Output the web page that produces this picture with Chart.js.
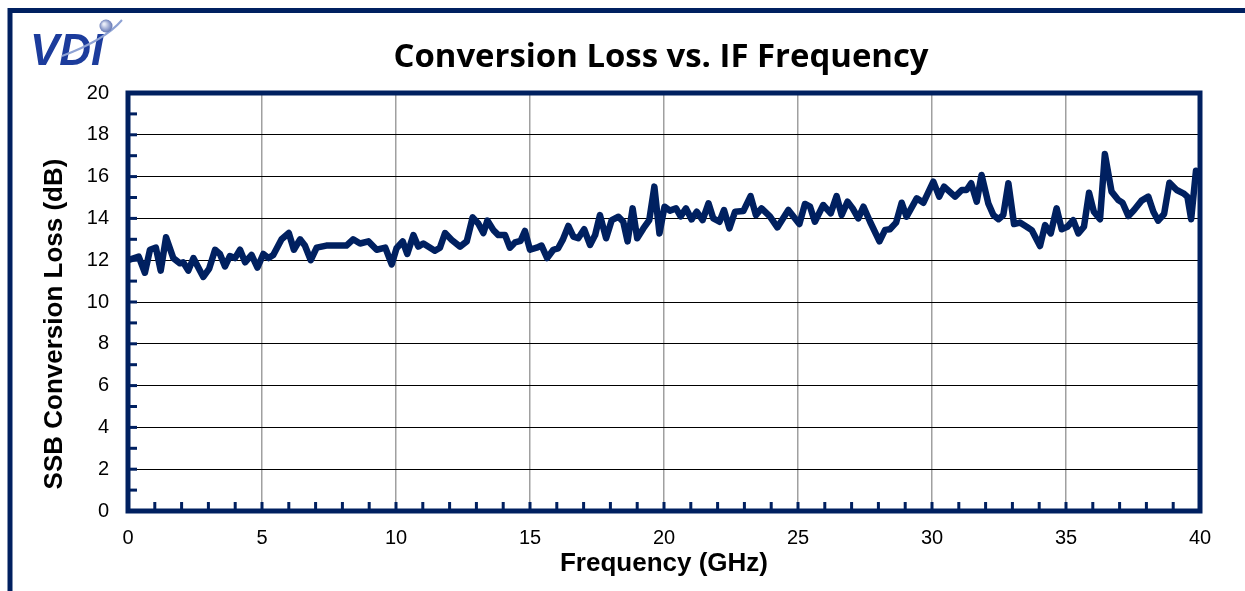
<!DOCTYPE html>
<html>
<head>
<meta charset="utf-8">
<script src="https://cdn.jsdelivr.net/npm/chart.js@4.4.1/dist/chart.umd.min.js"></script>
<style>
  html, body { margin: 0; padding: 0; background: #fff; }
  #wrap { position: relative; width: 1245px; height: 591px; overflow: hidden; }
</style>
</head>
<body>
<div id="wrap"><canvas id="chart" width="1245" height="591"></canvas></div>
<script>
const chartTitle = 'Conversion Loss vs. IF Frequency';
const xTitle = 'Frequency (GHz)';
const yTitle = 'SSB Conversion Loss (dB)';

// IF frequency (GHz) and SSB conversion loss (dB)
const freqGHz = [
  0, 0.4, 0.63, 0.82, 1.04, 1.22, 1.42, 1.69, 1.94, 2.06, 2.25, 2.44, 2.81, 3.03, 3.25, 3.43, 3.62, 3.8, 3.99, 4.18,
  4.37, 4.61, 4.83, 5.05, 5.24, 5.42, 5.73, 6.0, 6.19, 6.42, 6.6, 6.82, 7.04, 7.4, 7.9, 8.15, 8.4, 8.66, 8.97, 9.28,
  9.6, 9.84, 10.02, 10.25, 10.42, 10.65, 10.83, 11.02, 11.45, 11.64, 11.83, 12.08, 12.39, 12.64, 12.86, 13.07, 13.26, 13.41, 13.63, 13.82,
  14.07, 14.25, 14.44, 14.65, 14.81, 15.0, 15.25, 15.43, 15.64, 15.87, 16.05, 16.22, 16.43, 16.62, 16.8, 17.02, 17.24, 17.43, 17.61, 17.84,
  18.05, 18.3, 18.48, 18.64, 18.83, 19.0, 19.23, 19.45, 19.64, 19.83, 20.02, 20.22, 20.45, 20.62, 20.82, 21.03, 21.22, 21.44, 21.66, 21.84,
  22.07, 22.24, 22.44, 22.65, 22.96, 23.23, 23.43, 23.64, 23.95, 24.23, 24.64, 25.05, 25.26, 25.45, 25.63, 25.94, 26.22, 26.44, 26.63, 26.85,
  27.04, 27.25, 27.44, 27.69, 28.04, 28.25, 28.43, 28.66, 28.87, 29.05, 29.43, 29.68, 30.05, 30.27, 30.45, 30.86, 31.11, 31.29, 31.46, 31.67,
  31.85, 32.1, 32.29, 32.48, 32.66, 32.85, 33.06, 33.28, 33.53, 33.72, 34.03, 34.22, 34.43, 34.65, 34.84, 35.05, 35.27, 35.46, 35.67, 35.86,
  36.04, 36.27, 36.45, 36.7, 36.95, 37.11, 37.33, 37.54, 37.82, 38.07, 38.26, 38.44, 38.66, 38.86, 39.13, 39.38, 39.53, 39.67, 39.85, 40.0
];
const lossDb = [
  12.0, 12.17, 11.4, 12.5, 12.6, 11.5, 13.1, 12.1, 11.85, 11.9, 11.5, 12.1, 11.2, 11.6, 12.5, 12.3, 11.7, 12.2, 12.1, 12.5,
  11.9, 12.25, 11.65, 12.3, 12.1, 12.25, 13.0, 13.3, 12.5, 13.0, 12.7, 12.0, 12.6, 12.7, 12.7, 12.7, 13.0, 12.8, 12.9, 12.5,
  12.6, 11.8, 12.57, 12.9, 12.3, 13.2, 12.65, 12.8, 12.45, 12.6, 13.3, 12.97, 12.65, 12.9, 14.05, 13.76, 13.3, 13.9, 13.45, 13.2,
  13.2, 12.6, 12.85, 12.93, 13.4, 12.5, 12.6, 12.7, 12.1, 12.5, 12.57, 12.97, 13.64, 13.13, 13.05, 13.48, 12.73, 13.2, 14.16, 13.05,
  13.92, 14.08, 13.84, 12.9, 14.48, 13.05, 13.52, 13.92, 15.52, 13.28, 14.56, 14.37, 14.48, 14.1, 14.48, 13.95, 14.32, 13.92, 14.72, 14.0,
  13.84, 14.4, 13.52, 14.32, 14.35, 15.07, 14.16, 14.48, 14.1, 13.57, 14.4, 13.73, 14.69, 14.56, 13.84, 14.64, 14.24, 15.07, 14.16, 14.8,
  14.48, 14.0, 14.56, 13.84, 12.9, 13.45, 13.48, 13.8, 14.75, 14.08, 14.96, 14.75, 15.76, 15.04, 15.52, 15.04, 15.36, 15.36, 15.68, 14.8,
  16.08, 14.72, 14.16, 13.96, 14.16, 15.68, 13.73, 13.8, 13.6, 13.44, 12.68, 13.68, 13.28, 14.48, 13.48, 13.6, 13.92, 13.28, 13.6, 15.23,
  14.32, 13.96, 17.08, 15.28, 14.88, 14.75, 14.11, 14.4, 14.85, 15.04, 14.32, 13.89, 14.21, 15.71, 15.36, 15.2, 15.04, 13.96, 16.28, 16.1
];

const navy = '#002060';
const axisFont = '"Liberation Sans", Arial, sans-serif';
const titleFont = '"Open Sans", Lato, sans-serif';

const decor = {
  id: 'decor',
  beforeDraw(chart) {
    const ctx = chart.ctx;
    ctx.save();
    ctx.fillStyle = '#fff';
    ctx.fillRect(0, 0, chart.width, chart.height);

    // outer frame (runs off the right and bottom edges)
    ctx.strokeStyle = navy;
    ctx.lineWidth = 5;
    ctx.strokeRect(10, 10.5, chart.width + 40, chart.height + 40);

    // logo
    ctx.fillStyle = '#1c3c9c';
    ctx.font = 'italic bold 44px ' + axisFont;
    ctx.textAlign = 'left';
    ctx.textBaseline = 'alphabetic';
    ctx.fillText('VDI', 30, 65);
    ctx.strokeStyle = '#8ea2d4';
    ctx.lineWidth = 2;
    ctx.beginPath();
    ctx.moveTo(62, 56);
    ctx.quadraticCurveTo(105, 40, 122, 20);
    ctx.stroke();
    const g = ctx.createRadialGradient(104, 24, 1, 106, 26, 7);
    g.addColorStop(0, '#e8ecf8');
    g.addColorStop(1, '#5a6fb0');
    ctx.fillStyle = g;
    ctx.beginPath();
    ctx.arc(106, 26, 6.5, 0, Math.PI * 2);
    ctx.fill();

    // chart title, sized to the width it has in the original
    ctx.fillStyle = '#000';
    ctx.font = 'bold 100px ' + titleFont;
    const size = Math.min(34, 100 * 536 / ctx.measureText(chartTitle).width);
    ctx.font = 'bold ' + size.toFixed(1) + 'px ' + titleFont;
    ctx.textAlign = 'center';
    ctx.textBaseline = 'middle';
    ctx.fillText(chartTitle, 661, 58);

    // y axis title
    ctx.translate(55, 324);
    ctx.rotate(-Math.PI / 2);
    ctx.font = 'bold 26px ' + axisFont;
    ctx.fillText(yTitle, 0, 0);
    ctx.restore();
  },
  afterDatasetsDraw(chart) {
    const { ctx, chartArea: a, scales: { x, y } } = chart;
    ctx.save();
    ctx.fillStyle = navy;
    for (let v = 1; v < 20; v++) {
      const py = y.getPixelForValue(v);
      ctx.fillRect(a.left, py - 1.5, 9, 3);
    }
    for (let f = 1; f < 40; f++) {
      const px = x.getPixelForValue(f);
      ctx.fillRect(px - 1.5, a.bottom - 9, 3, 9);
    }
    ctx.strokeStyle = navy;
    ctx.lineWidth = 5;
    ctx.strokeRect(a.left, a.top, a.right - a.left, a.bottom - a.top);
    ctx.restore();
  }
};

new Chart(document.getElementById('chart'), {
  type: 'line',
  data: {
    datasets: [{
      data: freqGHz.map((f, i) => ({ x: f, y: lossDb[i] })),
      borderColor: navy,
      borderWidth: 6.5,
      pointRadius: 0,
      tension: 0,
      borderJoinStyle: 'round',
      borderCapStyle: 'round'
    }]
  },
  options: {
    responsive: false,
    animation: false,
    devicePixelRatio: 1,
    layout: { padding: { top: 93, right: 45, bottom: 0, left: 0 } },
    plugins: {
      legend: { display: false },
      tooltip: { enabled: false },
      title: { display: false }
    },
    scales: {
      x: {
        type: 'linear',
        min: 0,
        max: 40,
        afterFit: s => { s.height = 80; },
        ticks: { stepSize: 5, padding: 15, color: '#000', font: { family: axisFont, size: 20 } },
        grid: { color: '#a0a0a0', lineWidth: 1.5, drawTicks: false },
        border: { display: false },
        title: {
          display: true,
          text: xTitle,
          color: '#000',
          font: { family: axisFont, size: 26, weight: 'bold' },
          padding: { top: 0, bottom: 12 }
        }
      },
      y: {
        min: 0,
        max: 20,
        afterFit: s => { s.width = 128; },
        ticks: { stepSize: 2, padding: 19, color: '#000', font: { family: axisFont, size: 20 } },
        grid: { color: '#000', lineWidth: 1, drawTicks: false },
        border: { display: false }
      }
    }
  },
  plugins: [decor]
});
</script>
</body>
</html>
